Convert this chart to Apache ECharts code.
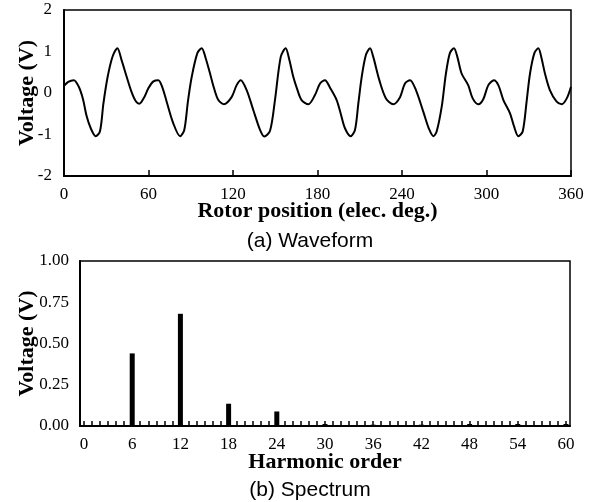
<!DOCTYPE html>
<html>
<head>
<meta charset="utf-8">
<script src="https://cdn.jsdelivr.net/npm/echarts@6/dist/echarts.min.js"></script>
<style>
  html, body { margin: 0; padding: 0; background: #fff; }
  #main { width: 602px; height: 502px; }
</style>
</head>
<body>
<div id="main"></div>
<script>
// (a) 波形：转子位置 (电角度) 和电压
var positions = [
    0, 3, 7, 10.5, 13.5, 16, 19, 22.5, 25.5, 28, 31, 34.5, 37.9, 41, 44.5, 48, 51, 53.5, 57, 60,
    63.5, 67, 70, 72.9, 77.6, 82.4, 85.4, 88, 90.7, 94.7, 97.8, 100.5, 103.7, 106.5, 109.6, 113.6, 119, 122.6, 125.5,
    129.7, 134.4, 139.2, 142.2, 146.3, 149.8, 153.9, 157.4, 160, 162.8, 165.5, 168.7, 173.5, 178.2, 181.8, 185.3,
    189, 193.6, 196.5, 199.5, 203.5, 206.6, 209, 211.4, 214.4, 217.3, 219.6, 223.9, 228.6, 233.8, 238.6, 242.1, 245.7,
    249.9, 255.1, 259, 262.3, 264.6, 268.2, 271.2, 274, 276.9, 279.3, 282.3, 287, 290.2, 294.2, 297.7, 301.3, 305.3,
    308.4, 312, 316.7, 319.5, 322.6, 325.7, 328.5, 330.9, 334, 336.8, 339, 341.5, 345, 349.8, 353.4, 357, 360
];
var voltages = [
    0.17, 0.27, 0.31, 0.15, -0.15, -0.55, -0.85, -1.04, -0.93, -0.25, 0.39, 0.88, 1.08, 0.78, 0.39, 0.02, -0.2, -0.26, -0.1, 0.12,
    0.28, 0.31, 0.12, -0.21, -0.73, -1.04, -0.89, -0.2, 0.39, 0.96, 1.08, 0.85, 0.47, 0.12, -0.17, -0.27, -0.1, 0.19, 0.31,
    0.07, -0.41, -0.89, -1.05, -0.91, -0.17, 0.87, 1.08, 0.8, 0.39, 0.1, -0.17, -0.27, -0.05, 0.23, 0.31,
    0.12, -0.17, -0.5, -0.85, -1.04, -0.89, -0.25, 0.39, 0.92, 1.08, 0.87, 0.31, -0.13, -0.27, -0.1, 0.23, 0.31,
    0.07, -0.45, -0.85, -1.04, -0.93, -0.33, 0.47, 0.96, 1.08, 0.87, 0.47, 0.19, -0.13, -0.27, -0.15, 0.19, 0.31,
    0.19, -0.17, -0.49, -0.8, -1.04, -0.93, -0.2, 0.47, 0.96, 1.08, 0.85, 0.47, 0.07, -0.21, -0.27, -0.13, 0.15
];

// (b) 频谱：谐波次数 0..60
var orders = [];
for (var k = 0; k <= 60; k++) {
    orders.push(String(k));
}
// 非零的谐波幅值
var harmonics = [6, 12, 18, 24, 30, 36, 42, 48, 54, 60];
var amplitudes = [0.44, 0.68, 0.135, 0.088, 0.012, 0.008, 0.008, 0.012, 0.012, 0.012];

var spectrum = orders.map(function (o) {
    var idx = harmonics.indexOf(Number(o));
    return idx >= 0 ? amplitudes[idx] : 0;
});

var serif = 'Liberation Serif';
var sans = 'Liberation Sans';

var myChart = echarts.init(document.getElementById('main'));

var option = {
    backgroundColor: '#fff',
    animation: false,
    title: [
        {
            text: '(a) Waveform',
            left: 310, top: 231, textAlign: 'center', padding: 0,
            textStyle: { fontFamily: sans, fontSize: 21, fontWeight: 'normal', color: '#000' }
        },
        {
            text: '(b) Spectrum',
            left: 310, top: 480, textAlign: 'center', padding: 0,
            textStyle: { fontFamily: sans, fontSize: 21, fontWeight: 'normal', color: '#000' }
        }
    ],
    grid: [
        { left: 64, top: 10, right: 31, bottom: 326, show: true, borderColor: '#000', borderWidth: 1.5 },
        { left: 80, top: 261, right: 32, bottom: 76, show: true, borderColor: '#000', borderWidth: 1.5 }
    ],
    xAxis: [
        {
            gridIndex: 0,
            type: 'value',
            min: 0, max: 360, interval: 60,
            name: 'Rotor position (elec. deg.)',
            nameLocation: 'middle',
            nameGap: 24,
            nameMoveOverlap: false,
            nameTextStyle: { fontFamily: serif, fontSize: 22, fontWeight: 'bold', color: '#000' },
            axisLine: { onZero: false, lineStyle: { color: '#000', width: 2 } },
            axisTick: { show: true, inside: true, length: 6, lineStyle: { color: '#000', width: 1.5 } },
            axisLabel: { fontFamily: serif, fontSize: 17, color: '#000', margin: 10 },
            splitLine: { show: false }
        },
        {
            gridIndex: 1,
            type: 'category',
            data: orders,
            name: 'Harmonic order',
            nameLocation: 'middle',
            nameGap: 25,
            nameMoveOverlap: false,
            nameTextStyle: { fontFamily: serif, fontSize: 22, fontWeight: 'bold', color: '#000' },
            axisLine: { onZero: false, lineStyle: { color: '#000', width: 2 } },
            axisTick: { show: true, inside: true, length: 5, interval: 0, alignWithLabel: true, lineStyle: { color: '#000', width: 1.5 } },
            axisLabel: { interval: 5, fontFamily: serif, fontSize: 17, color: '#000', margin: 10 },
            splitLine: { show: false }
        }
    ],
    yAxis: [
        {
            gridIndex: 0,
            type: 'value',
            min: -2, max: 2, interval: 1,
            name: 'Voltage (V)',
            nameLocation: 'middle',
            nameGap: 26,
            nameMoveOverlap: false,
            nameTextStyle: { fontFamily: serif, fontSize: 22, fontWeight: 'bold', color: '#000' },
            axisLine: { show: true, onZero: false, lineStyle: { color: '#000', width: 2 } },
            axisTick: { show: false },
            axisLabel: { fontFamily: serif, fontSize: 17, color: '#000', margin: 12 },
            splitLine: { show: false }
        },
        {
            gridIndex: 1,
            type: 'value',
            min: 0, max: 1, interval: 0.25,
            name: 'Voltage (V)',
            nameLocation: 'middle',
            nameGap: 42,
            nameMoveOverlap: false,
            nameTextStyle: { fontFamily: serif, fontSize: 22, fontWeight: 'bold', color: '#000' },
            axisLine: { show: true, onZero: false, lineStyle: { color: '#000', width: 2 } },
            axisTick: { show: false },
            axisLabel: {
                fontFamily: serif, fontSize: 17, color: '#000', margin: 11,
                formatter: function (v) { return v.toFixed(2); }
            },
            splitLine: { show: false }
        }
    ],
    series: [
        {
            type: 'line',
            xAxisIndex: 0, yAxisIndex: 0,
            data: positions.map(function (p, i) { return [p, voltages[i]]; }),
            smooth: 0.3,
            showSymbol: false,
            lineStyle: { color: '#000', width: 2 }
        },
        {
            type: 'bar',
            xAxisIndex: 1, yAxisIndex: 1,
            data: spectrum,
            barWidth: 5,
            itemStyle: { color: '#000' }
        }
    ]
};

myChart.setOption(option);
</script>
</body>
</html>
